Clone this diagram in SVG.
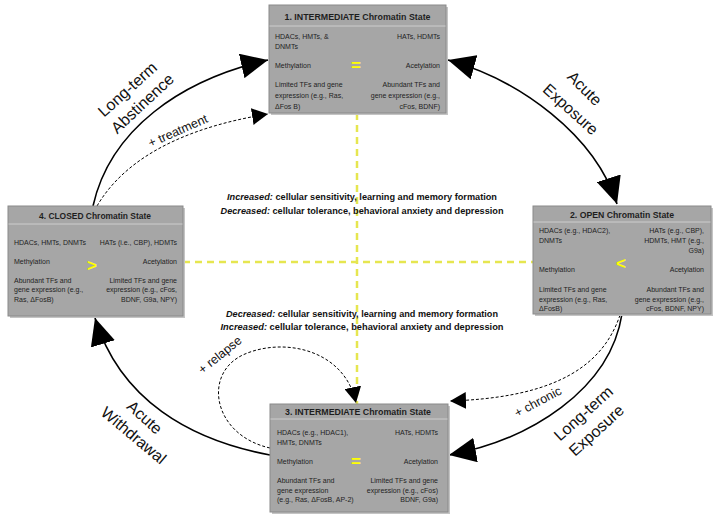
<svg xmlns="http://www.w3.org/2000/svg" width="716" height="522" viewBox="0 0 716 522">
<style>
.box{fill:#a6a6a6;stroke:#8a8a8a;stroke-width:1}
.shadow{fill:#c4c4c4}
.sep{stroke:#cdcdcd;stroke-width:1}
.t{font-family:"Liberation Sans",Arial,sans-serif;font-size:7px;fill:#1e1e1e}
.r{text-anchor:end}
.h{font-family:"Liberation Sans",Arial,sans-serif;font-size:9.5px;font-weight:bold;fill:#1e1e1e;text-anchor:middle}
.sym{font-family:"Liberation Sans",Arial,sans-serif;font-size:17px;font-weight:bold;fill:#ffff00;text-anchor:middle}
.mid{font-family:"Liberation Sans",Arial,sans-serif;font-size:9.8px;font-weight:bold;fill:#111;text-anchor:middle}
.lab{font-family:"Liberation Sans",Arial,sans-serif;font-size:16px;fill:#111;text-anchor:middle}
.sl{font-family:"Liberation Sans",Arial,sans-serif;font-size:12.5px;fill:#111;text-anchor:middle}
.solid{fill:none;stroke:#000;stroke-width:1.6}
.dash{fill:none;stroke:#000;stroke-width:1;stroke-dasharray:3,2}
.yel{fill:none;stroke:#e6e650;stroke-width:2.5;stroke-dasharray:7,5}
</style>
<defs>
<marker id="big" viewBox="0 0 10 10" refX="10" refY="5" markerWidth="27" markerHeight="25" markerUnits="userSpaceOnUse" orient="auto-start-reverse" preserveAspectRatio="none"><path d="M0,0L10,5L0,10z" fill="#000"/></marker>
<marker id="small" viewBox="0 0 10 10" refX="10" refY="5" markerWidth="16" markerHeight="17" markerUnits="userSpaceOnUse" orient="auto" preserveAspectRatio="none"><path d="M0,0L10,5L0,10z" fill="#000"/></marker>
</defs>
<rect width="716" height="522" fill="#fff"/>

<g id="guides">
<path class="yel" d="M357,113V404"/>
<path class="yel" d="M183,262H533"/>
</g>

<g id="summary">
<text class="mid" x="362" y="200" textLength="270" lengthAdjust="spacingAndGlyphs"><tspan font-style="italic">Increased:</tspan>  cellular sensitivity, learning and memory formation</text>
<text class="mid" x="362" y="214" textLength="283" lengthAdjust="spacingAndGlyphs"><tspan font-style="italic">Decreased:</tspan> cellular tolerance, behavioral anxiety and depression</text>
<text class="mid" x="362" y="317" textLength="272" lengthAdjust="spacingAndGlyphs"><tspan font-style="italic">Decreased:</tspan>  cellular sensitivity, learning and memory formation</text>
<text class="mid" x="362" y="330" textLength="283" lengthAdjust="spacingAndGlyphs"><tspan font-style="italic">Increased:</tspan>  cellular tolerance, behavioral anxiety and depression</text>
</g>

<g id="connectors">
<path class="solid" d="M93,206C110,130 180,80 268,60" marker-end="url(#big)"/>
<path class="dash" d="M97,206C130,150 200,125 268,114" marker-end="url(#small)"/>
<path class="solid" d="M448,60C520,80 595,135 617,204" marker-start="url(#big)" marker-end="url(#big)"/>
<path class="solid" d="M622,314C610,390 530,440 449,455" marker-end="url(#big)"/>
<path class="dash" d="M620,315C600,375 540,398 450,401" marker-end="url(#small)"/>
<path class="solid" d="M270,455C190,440 120,400 95,318" marker-end="url(#big)"/>
<path class="dash" d="M270,448C212,435 202,372 245,354C285,337 345,350 356,403" marker-end="url(#small)"/>
<text class="lab" transform="translate(127,89) rotate(-42)" y="6">Long-term</text>
<text class="lab" transform="translate(142,103) rotate(-43)" y="6">Abstinence</text>
<text class="sl" transform="translate(178,131) rotate(-24)" y="4">+ treatment</text>
<text class="lab" transform="translate(585,88) rotate(45)" y="6">Acute</text>
<text class="lab" transform="translate(571,109) rotate(42)" y="6">Exposure</text>
<text class="lab" transform="translate(583,413) rotate(-42)" y="6">Long-term</text>
<text class="lab" transform="translate(596,430) rotate(-42)" y="6">Exposure</text>
<text class="sl" transform="translate(538,402) rotate(-28)" y="4">+ chronic</text>
<text class="lab" transform="translate(145,417) rotate(42)" y="6">Acute</text>
<text class="lab" transform="translate(134,435) rotate(40)" y="6">Withdrawal</text>
<text class="sl" transform="translate(220,355) rotate(-39)" y="4">+ relapse</text>
</g>

<g id="state1">
<rect class="shadow" x="271" y="7" width="177" height="108"/>
<rect class="box" x="269" y="5" width="177" height="108"/>
<line class="sep" x1="269.5" y1="26" x2="445.5" y2="26"/>
<text class="h" x="357.5" y="20" textLength="146" lengthAdjust="spacingAndGlyphs">1. INTERMEDIATE Chromatin State</text>
<text class="t" x="275" y="39">HDACs, HMTs, &amp;</text>
<text class="t" x="275" y="49">DNMTs</text>
<text class="t r" x="440" y="39">HATs, HDMTs</text>
<text class="t" x="275" y="68">Methylation</text>
<text class="sym" x="356" y="71">=</text>
<text class="t r" x="440" y="68">Acetylation</text>
<text class="t" x="275" y="87">Limited TFs and gene</text>
<text class="t" x="275" y="98">expression (e.g., Ras,</text>
<text class="t" x="275" y="108.5">ΔFos B)</text>
<text class="t r" x="440" y="87">Abundant TFs and</text>
<text class="t r" x="440" y="98">gene expression (e.g.,</text>
<text class="t r" x="440" y="108.5">cFos, BDNF)</text>
</g>

<g id="state2">
<rect class="shadow" x="535" y="208" width="178" height="108"/>
<rect class="box" x="533" y="206" width="178" height="108"/>
<line class="sep" x1="533.5" y1="222" x2="710.5" y2="222"/>
<text class="h" x="622" y="217.5" textLength="104" lengthAdjust="spacingAndGlyphs">2. OPEN Chromatin State</text>
<text class="t" x="539" y="233">HDACs (e.g., HDAC2),</text>
<text class="t" x="539" y="243">DNMTs</text>
<text class="t r" x="704" y="233">HATs (e.g., CBP),</text>
<text class="t r" x="704" y="243">HDMTs, HMT (e.g.,</text>
<text class="t r" x="704" y="253">G9a)</text>
<text class="t" x="539" y="272">Methylation</text>
<text class="sym" x="621" y="269">&lt;</text>
<text class="t r" x="704" y="272">Acetylation</text>
<text class="t" x="539" y="292">Limited TFs and gene</text>
<text class="t" x="539" y="302">expression (e.g., Ras,</text>
<text class="t" x="539" y="311">ΔFosB)</text>
<text class="t r" x="704" y="292">Abundant TFs and</text>
<text class="t r" x="704" y="302">gene expression (e.g.,</text>
<text class="t r" x="704" y="311">cFos, BDNF, NPY)</text>
</g>

<g id="state3">
<rect class="shadow" x="272" y="406" width="178" height="108"/>
<rect class="box" x="270" y="404" width="178" height="108"/>
<line class="sep" x1="270.5" y1="419" x2="447.5" y2="419"/>
<text class="h" x="358" y="415" textLength="146" lengthAdjust="spacingAndGlyphs">3. INTERMEDIATE Chromatin State</text>
<text class="t" x="277" y="435">HDACs  (e.g., HDAC1),</text>
<text class="t" x="277" y="445">HMTs, DNMTs</text>
<text class="t r" x="438" y="435">HATs, HDMTs</text>
<text class="t" x="277" y="464">Methylation</text>
<text class="sym" x="356" y="467">=</text>
<text class="t r" x="438" y="464">Acetylation</text>
<text class="t" x="277" y="483">Abundant TFs and</text>
<text class="t" x="277" y="493">gene expression</text>
<text class="t" x="277" y="502"> (e.g., Ras, ΔFosB, AP-2)</text>
<text class="t r" x="438" y="483">Limited TFs and gene</text>
<text class="t r" x="438" y="493">expression  (e.g., cFos)</text>
<text class="t r" x="438" y="502">BDNF, G9a)</text>
</g>

<g id="state4">
<rect class="shadow" x="10" y="208" width="175" height="110"/>
<rect class="box" x="8" y="206" width="175" height="110"/>
<line class="sep" x1="8.5" y1="224" x2="182.5" y2="224"/>
<text class="h" x="95" y="219" textLength="112" lengthAdjust="spacingAndGlyphs">4. CLOSED Chromatin State</text>
<text class="t" x="14" y="245">HDACs, HMTs, DNMTs</text>
<text class="t r" x="177" y="245">HATs (i.e., CBP), HDMTs</text>
<text class="t" x="14" y="264">Methylation</text>
<text class="sym" x="92" y="271">&gt;</text>
<text class="t r" x="177" y="264">Acetylation</text>
<text class="t" x="14" y="283">Abundant TFs  and</text>
<text class="t" x="14" y="292">gene expression  (e.g.,</text>
<text class="t" x="14" y="302">Ras, ΔFosB)</text>
<text class="t r" x="177" y="283">Limited TFs and gene</text>
<text class="t r" x="177" y="292">expression (e.g., cFos,</text>
<text class="t r" x="177" y="302">BDNF, G9a, NPY)</text>
</g>
</svg>
